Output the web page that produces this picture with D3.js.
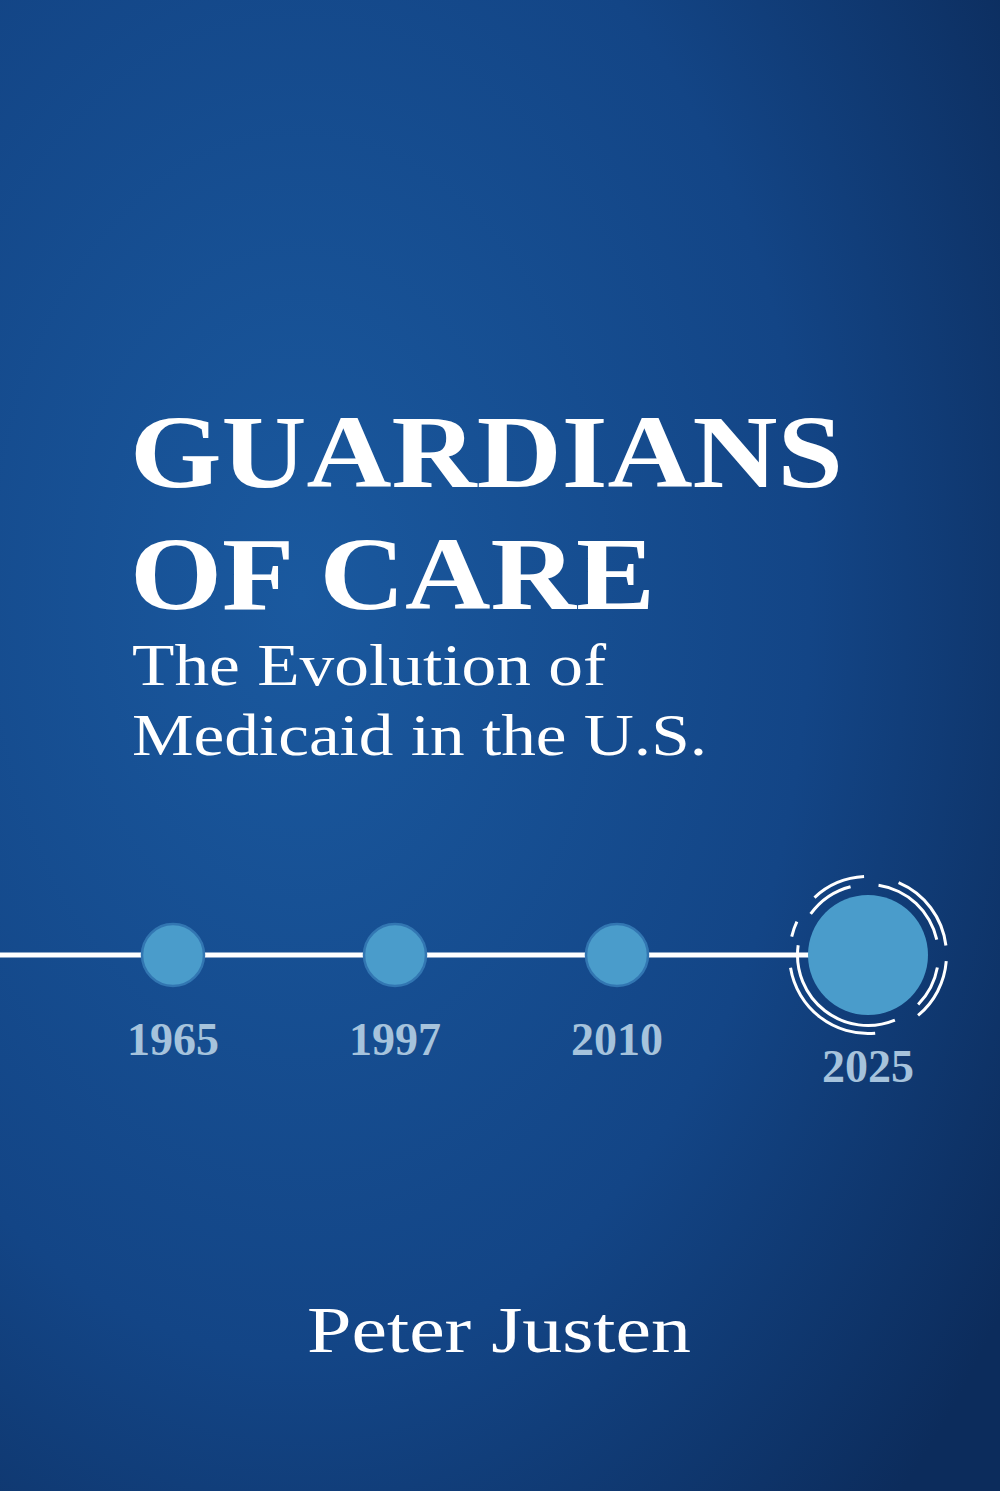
<!DOCTYPE html>
<html>
<head>
<meta charset="utf-8">
<script src="https://cdn.jsdelivr.net/npm/d3@7"></script>
<style>body{margin:0;background:#14498a;}</style>
</head>
<body>
<div id="cover"></div>
<script>
// timeline data
const years = ["1965", "1997", "2010", "2025"];
const highlighted = [false, false, false, true];
const titleLines = ["GUARDIANS", "OF CARE"];
const subtitleLines = ["The Evolution of", "Medicaid in the U.S."];
const author = "Peter Justen";

const width = 1000, height = 1491;
const svg = d3.select("#cover").append("svg")
    .attr("width", width).attr("height", height);

// background gradient
const defs = svg.append("defs");
const grad = defs.append("radialGradient").attr("id", "bg")
    .attr("cx", "30%").attr("cy", "40%").attr("r", "85%");
grad.append("stop").attr("offset", "0%").attr("stop-color", "#1a599f");
grad.append("stop").attr("offset", "60%").attr("stop-color", "#134586");
grad.append("stop").attr("offset", "100%").attr("stop-color", "#0c2c5c");
svg.append("rect").attr("width", width).attr("height", height).attr("fill", "url(#bg)");

// title
svg.selectAll("text.title").data(titleLines).enter().append("text")
    .attr("class", "title")
    .attr("x", 130).attr("y", (d, i) => 487 + i * 122)
    .attr("font-family", "'Liberation Serif', serif").attr("font-weight", "bold")
    .attr("font-size", 104).attr("fill", "#ffffff")
    .attr("textLength", (d, i) => i === 0 ? 713 : 525)
    .attr("lengthAdjust", "spacingAndGlyphs")
    .text(d => d);

svg.selectAll("text.sub").data(subtitleLines).enter().append("text")
    .attr("class", "sub")
    .attr("x", 132).attr("y", (d, i) => 685 + i * 70)
    .attr("font-family", "'Liberation Serif', serif")
    .attr("font-size", 60).attr("fill", "#ffffff")
    .attr("textLength", (d, i) => i === 0 ? 474 : 575)
    .attr("lengthAdjust", "spacingAndGlyphs")
    .text(d => d);

// timeline
const lineY = 955, r = 31, R = 60;
const x = d3.scalePoint().domain(years).range([173, 839]);
const cx = (d, i) => x(d) + (highlighted[i] ? R - r : 0);

svg.append("line").attr("x1", 0).attr("x2", cx(years[3], 3) - R + 2)
    .attr("y1", lineY).attr("y2", lineY)
    .attr("stroke", "#ffffff").attr("stroke-width", 5);

svg.selectAll("circle.node").data(years).enter().append("circle")
    .attr("class", "node")
    .attr("cx", cx).attr("cy", lineY)
    .attr("r", (d, i) => highlighted[i] ? R : r)
    .attr("fill", "#4a9ccb")
    .attr("stroke", (d, i) => highlighted[i] ? "none" : "#3276b2")
    .attr("stroke-width", 2.5);

// rings around highlighted node
const bigX = cx(years[3], 3);
const arc = d3.arc();
const rings = [
    [69, 72, -0.95, -0.25], [69, 72, 0.15, 1.35], [69, 72, 1.75, 2.35], [69, 72, 2.75, 4.85],
    [77, 80, -0.75, -0.05], [77, 80, 0.4, 1.45], [77, 80, 1.65, 2.45], [77, 80, 3.05, 4.55], [77, 80, 4.95, 5.15]
];
svg.selectAll("path.ring").data(rings).enter().append("path")
    .attr("class", "ring")
    .attr("transform", `translate(${bigX},${lineY})`)
    .attr("d", d => arc({innerRadius: d[0], outerRadius: d[1], startAngle: d[2], endAngle: d[3]}))
    .attr("fill", "#ffffff");

svg.selectAll("text.year").data(years).enter().append("text")
    .attr("class", "year")
    .attr("x", cx).attr("y", (d, i) => highlighted[i] ? 1082 : 1055)
    .attr("text-anchor", "middle")
    .attr("font-family", "'Liberation Serif', serif").attr("font-weight", "bold")
    .attr("font-size", 46).attr("fill", "#a6c3dc")
    .text(d => d);

// author
svg.append("text").attr("x", 499).attr("y", 1352)
    .attr("text-anchor", "middle")
    .attr("font-family", "'Liberation Serif', serif")
    .attr("font-size", 66).attr("fill", "#ffffff")
    .attr("textLength", 384).attr("lengthAdjust", "spacingAndGlyphs")
    .text(author);
</script>
</body>
</html>
